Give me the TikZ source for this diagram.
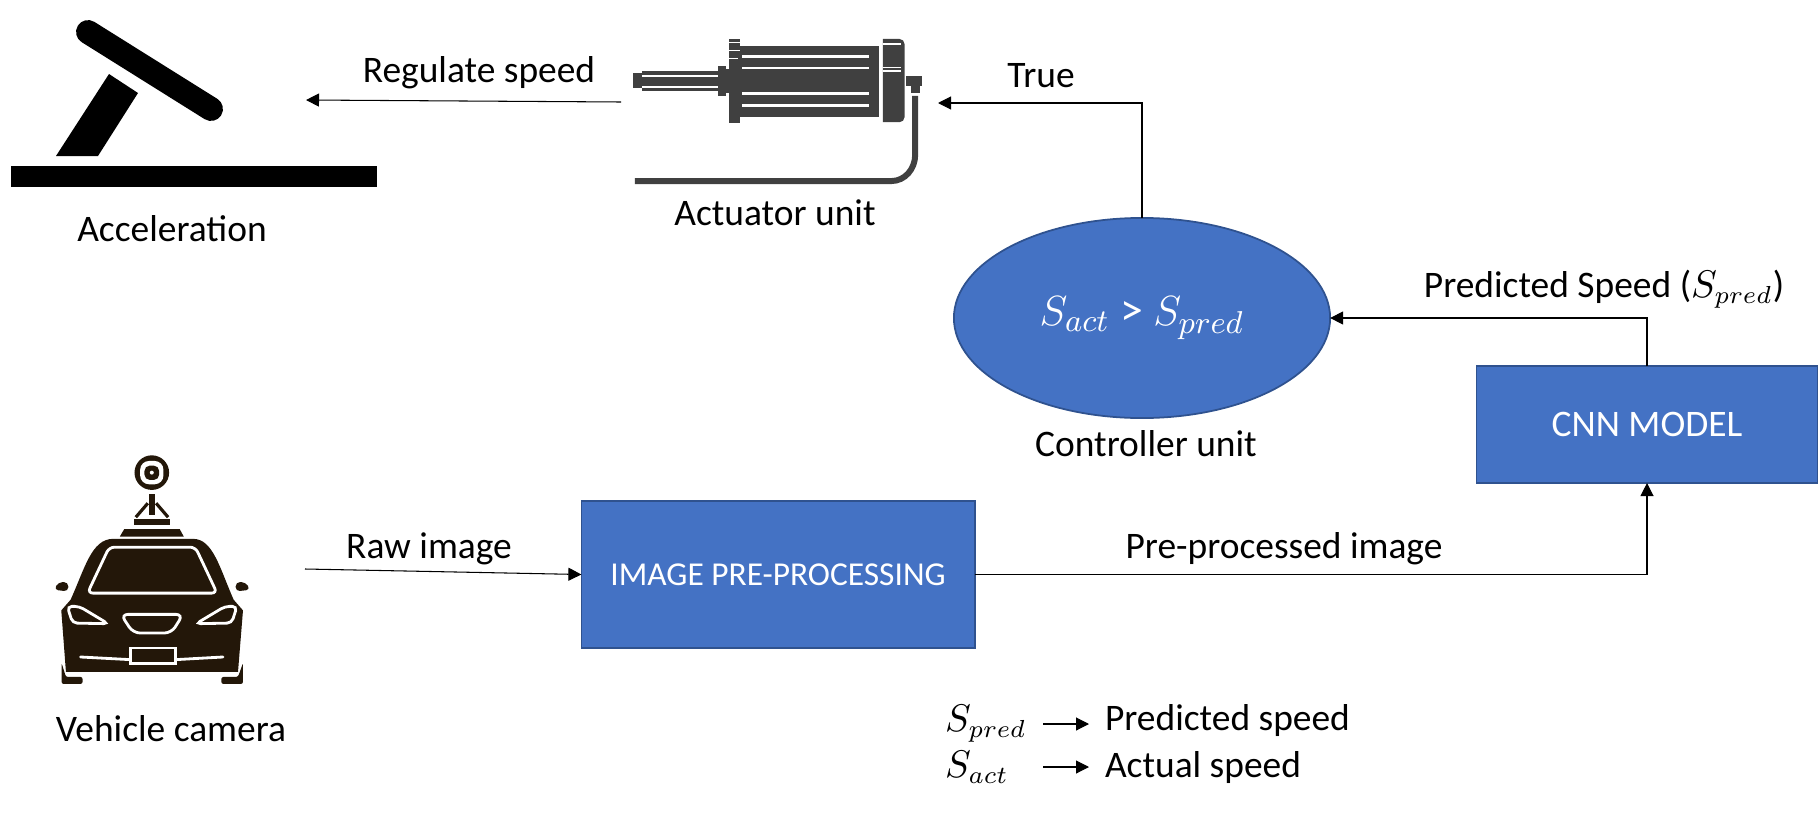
\documentclass[tikz,border=0pt]{standalone}
\usepackage{fontspec}
\setmainfont{Carlito}
\usepackage{tikz}
\usepackage{amsmath}
\usetikzlibrary{arrows, arrows.meta}
\usetikzlibrary{shapes}
\definecolor{boxblue}{HTML}{4472C4}
\definecolor{boxedge}{HTML}{2F528F}
\definecolor{motorgrey}{HTML}{404040}
\definecolor{cardark}{HTML}{231709}

\begin{document}
\begin{tikzpicture}[x=0.01cm, y=-0.01cm, >={Triangle[length=3.7pt, width=3.7pt]},
					every node/.style = {font=\fontsize{10.65pt}{12pt}\selectfont, inner sep=0pt, outer sep=0pt}]

\tikzstyle{proc_box} = [rectangle, draw=boxedge, line width=0.5pt, fill=boxblue, text=white]
\tikzstyle{flow} = [->, line width=0.3pt]
\tikzstyle{gap_line} = [white, line width=0.8pt]
\tikzstyle{legend_sym} = [anchor=west, text width=0.98cm, align=left]
\tikzstyle{legend_txt} = [anchor=west, inner xsep=0.16cm]

\useasboundingbox (0,0) rectangle (1818,812);

% acceleration pedal
\fill (11,166) rectangle (377,187);
\draw[line width=6.8pt, line cap=round] (88,32) -- (211,109);
\fill (109,74) -- (138,93) -- (98,156) -- (56,156) -- cycle;

% actuator, units of the 3x crop
\begin{scope}[shift={(610,20)}, x=0.003333cm, y=-0.003333cm]
	\fill[motorgrey] (70,160) rectangle (97,205);
	\fill[motorgrey] (97,153) rectangle (325,213);
	\fill[motorgrey] (325,138) rectangle (348,228);
	\fill[motorgrey] (348,148) rectangle (357,218);
	\fill[motorgrey] (357,57) rectangle (390,310);
	\fill[motorgrey] (390,77) rectangle (808,290);
	\fill[motorgrey] (820,57) -- (870,57) to[out=0, in=90] (885,72) -- (885,292) to[out=-90, in=0] (870,307) -- (820,307) -- cycle;
	\foreach \ypos in {110,144,222,257}
		\draw[gap_line] (398,\ypos) -- (778,\ypos);
	\foreach \ypos in {167,200}
		\draw[white, line width=0.6pt] (97,\ypos) -- (325,\ypos);
	\foreach \ypos in {68,92}
		\draw[white, line width=0.4pt] (357,\ypos) -- (390,\ypos);
	\draw[white, line width=0.4pt] (357,115) -- (385,115);
	\foreach \ypos in {72,143,153}
		\draw[white, line width=0.4pt] (820,\ypos) -- (875,\ypos);
	\fill[motorgrey] (890,168) rectangle (937,198);
	\fill[motorgrey] (905,198) rectangle (930,218);
	\draw[motorgrey, line width=1.7pt] (75,484) -- (845,484) to[out=0, in=-90] (917,405) -- (917,228);
\end{scope}

% car with camera, units of the 3x crop
\begin{scope}[shift={(30,440)}, x=0.003333cm, y=-0.003333cm]
	\fill[cardark] (366,98) circle [radius=52];
	\fill[white, rounded corners=2.5pt] (331,63) rectangle (401,133);
	\fill[cardark, rounded corners=1.5pt] (344,77) rectangle (388,120);
	\fill[white] (366,98) circle [radius=6];
	\fill[cardark] (357,162) rectangle (376,225);
	\draw[cardark, line width=0.9pt] (318,232) -- (354,190) (379,190) -- (415,232);
	\fill[cardark] (313,237) rectangle (420,255);
	\fill[cardark] (270,290) -- (283,268) -- (450,268) -- (462,290) -- cycle;
	% body
	\fill[cardark] (108,697) -- (94,512) -- (122,480) .. controls (165,385) and (185,297) .. (250,297)
		-- (490,297) .. controls (550,297) and (570,385) .. (612,480) -- (640,512) -- (625,697) -- cycle;
	\fill[cardark, rounded corners=0.6pt] (95,670) -- (108,712) -- (158,712) -- (158,733) -- (95,733) -- cycle;
	\fill[cardark, rounded corners=0.6pt] (640,670) -- (625,712) -- (575,712) -- (575,733) -- (640,733) -- cycle;
	\fill[cardark, rounded corners=1.2pt] (115,427) -- (85,427) -- (72,450) -- (115,455) -- cycle;
	\fill[cardark, rounded corners=1.2pt] (618,427) -- (648,427) -- (662,450) -- (618,455) -- cycle;
	% white details
	\draw[gap_line, rounded corners=1.5pt] (238,322) -- (497,322) -- (562,460) -- (173,460) -- cycle;
	\draw[gap_line, rounded corners=1.3pt] (112,500) -- (148,500) -- (235,552) -- (128,550) -- cycle;
	\draw[gap_line, rounded corners=1.3pt] (622,500) -- (586,500) -- (499,552) -- (606,550) -- cycle;
	\draw[gap_line, rounded corners=2pt] (273,524) -- (460,524) -- (425,580) -- (310,580) -- cycle;
	\draw[gap_line] (302,625) rectangle (437,672);
	\draw[gap_line, line cap=round] (152,652) -- (302,660) (437,660) -- (580,652);
\end{scope}

\node[proc_box, minimum width=3.93cm, minimum height=1.47cm] (img_box) at (778,574.5) {\fontsize{9.5pt}{11pt}\selectfont IMAGE PRE-PROCESSING};
\node[proc_box, minimum width=3.41cm, minimum height=1.17cm] (cnn_box) at (1647,424.5) {CNN MODEL};
\node[proc_box, ellipse, minimum width=3.76cm, minimum height=2cm] (ctrl_unit) at (1142,318)
	{\fontsize{13pt}{15pt}\selectfont $S_{act}$ > $S_{pred}$};

\node (lbl_accel) at (172,229) {Acceleration};
\node (lbl_actuator) at (775,213) {Actuator unit};
\node (lbl_ctrl) at (1146,444) {Controller unit};
\node (lbl_vehicle) at (171,729) {Vehicle camera};
\node (lbl_regulate) at (479,73) {Regulate speed};
\node (lbl_true) at (1041,76) {True};
\node (lbl_predicted) at (1604,289) {Predicted Speed ($S_{pred}$)};
\node (lbl_raw) at (429,549) {Raw image};
\node (lbl_preproc) at (1284,549) {Pre-processed image};

\node[legend_sym] (sym_pred) at (945,724) {$S_{pred}$};
\node[legend_txt] (txt_pred) at (1089,721) {Predicted speed};
\node[legend_sym] (sym_act) at (945,767) {$S_{act}$};
\node[legend_txt] (txt_act) at (1089,768) {Actual speed};

\coordinate (camera_out) at (305,569);
\coordinate (actuator_out) at (621,102);
\coordinate (pedal_in) at (306,100);
\coordinate (actuator_in) at (938,103);

\draw[flow] (camera_out) -- (img_box.west);
\draw[flow] (img_box.east) -| (cnn_box.south);
\draw[flow] (cnn_box.north) |- (ctrl_unit.east);
\draw[flow] (ctrl_unit.north) |- (actuator_in);
\draw[flow] (actuator_out) -- (pedal_in);
\draw[flow] (sym_pred.east) -- (sym_pred.east -| txt_pred.west);
\draw[flow] (sym_act.east) -- (sym_act.east -| txt_act.west);
\end{tikzpicture}
\end{document}
